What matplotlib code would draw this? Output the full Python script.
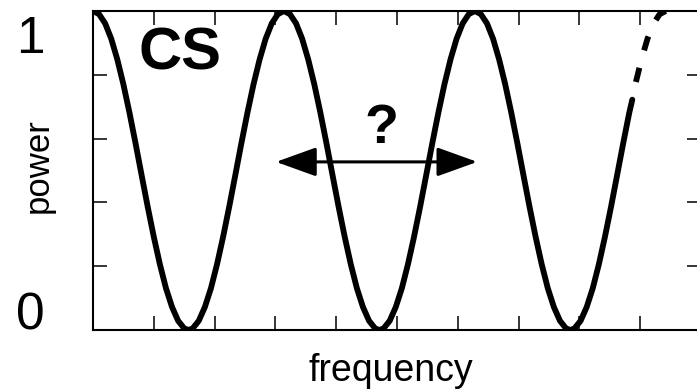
import matplotlib
matplotlib.use("Agg")
import matplotlib.pyplot as plt

plt.rcParams["font.family"] = ["Liberation Sans", "DejaVu Sans"]

# power spectrum of the CS signal, solid part
freq = [0.00, 0.10, 0.20, 0.30, 0.40, 0.50, 0.60, 0.70, 0.80, 0.90,
        1.00, 1.10, 1.20, 1.30, 1.40, 1.50, 1.57,
        1.64, 1.74, 1.84, 1.94, 2.04, 2.14, 2.24, 2.34, 2.44,
        2.54, 2.64, 2.74, 2.84, 2.94, 3.04, 3.14,
        3.24, 3.34, 3.44, 3.54, 3.64, 3.74, 3.84, 3.94, 4.04,
        4.14, 4.24, 4.34, 4.44, 4.54, 4.64, 4.71,
        4.78, 4.88, 4.98, 5.08, 5.18, 5.28, 5.38, 5.48, 5.58,
        5.68, 5.78, 5.88, 5.98, 6.08, 6.18, 6.28,
        6.38, 6.48, 6.58, 6.68, 6.78, 6.88, 6.98, 7.08, 7.18,
        7.28, 7.38, 7.48, 7.58, 7.68, 7.78, 7.85,
        7.92, 8.02, 8.12, 8.22, 8.32, 8.42, 8.52, 8.62, 8.72,
        8.82, 8.87]
power = [1.000, 0.990, 0.961, 0.913, 0.848, 0.770, 0.681, 0.585, 0.485, 0.386,
         0.292, 0.206, 0.131, 0.072, 0.029, 0.005, 0.000,
         0.005, 0.029, 0.072, 0.131, 0.206, 0.292, 0.386, 0.485, 0.585,
         0.681, 0.770, 0.848, 0.913, 0.961, 0.990, 1.000,
         0.990, 0.961, 0.913, 0.848, 0.770, 0.681, 0.585, 0.485, 0.386,
         0.292, 0.206, 0.131, 0.072, 0.029, 0.005, 0.000,
         0.005, 0.029, 0.072, 0.131, 0.206, 0.292, 0.386, 0.485, 0.585,
         0.681, 0.770, 0.848, 0.913, 0.961, 0.990, 1.000,
         0.990, 0.961, 0.913, 0.848, 0.770, 0.681, 0.585, 0.485, 0.386,
         0.292, 0.206, 0.131, 0.072, 0.029, 0.005, 0.000,
         0.005, 0.029, 0.072, 0.131, 0.206, 0.292, 0.386, 0.485, 0.585,
         0.681, 0.722]

# continuation (uncertain), dashed
freq_ext = [8.87, 8.92, 9.02, 9.12, 9.22, 9.32, 9.42]
power_ext = [0.722, 0.770, 0.848, 0.913, 0.961, 0.990, 1.000]

# spacing arrow
arrow_from = 3.01
arrow_to = 6.32
arrow_level = 0.527

fig = plt.figure(figsize=(6.97, 3.90), dpi=100)
ax = fig.add_axes([93 / 697, 60 / 390, 608 / 697, 319 / 390])

ax.plot(freq, power, color="black", lw=4.2, solid_capstyle="round",
        solid_joinstyle="round")
ax.plot(freq_ext, power_ext, color="black", lw=4.2,
        ls=(2.5, (2.5, 3.1)), dash_capstyle="butt")

ax.annotate("", xy=(arrow_to, arrow_level), xytext=(arrow_from, arrow_level),
            arrowprops=dict(arrowstyle="<|-|>,head_length=25,head_width=9",
                            mutation_scale=1, lw=2.2, color="black",
                            shrinkA=0, shrinkB=0))

ax.text(1.43, 0.818, "CS", fontsize=43, fontweight="bold",
        ha="center", va="baseline")
ax.text(4.75, 0.586, "?", fontsize=40, fontweight="bold",
        ha="center", va="baseline")

ax.set_xlim(0, 10)
ax.set_ylim(0, 1)
ax.set_xticks(range(1, 10))
ax.set_yticks([0.2, 0.4, 0.6, 0.8])
ax.tick_params(direction="in", length=10, width=1.1, top=True, right=True,
               labelbottom=False, labelleft=False)
for side in ("left", "bottom", "top"):
    ax.spines[side].set_linewidth(1.5)
ax.spines["right"].set_visible(False)

ytr = ax.get_yaxis_transform()
ax.text(-0.079, 0, "0", transform=ytr, fontsize=37, ha="right", va="baseline")
ax.text(-0.079, 0.868, "1", transform=ytr, fontsize=37, ha="right", va="baseline")

ax.set_xlabel("frequency", fontsize=27)
ax.xaxis.set_label_coords(0.490, -0.072)
ax.set_ylabel("power", fontsize=25)
ax.yaxis.set_label_coords(-0.0625, 0.514)

fig.savefig("out.png", dpi=100)
